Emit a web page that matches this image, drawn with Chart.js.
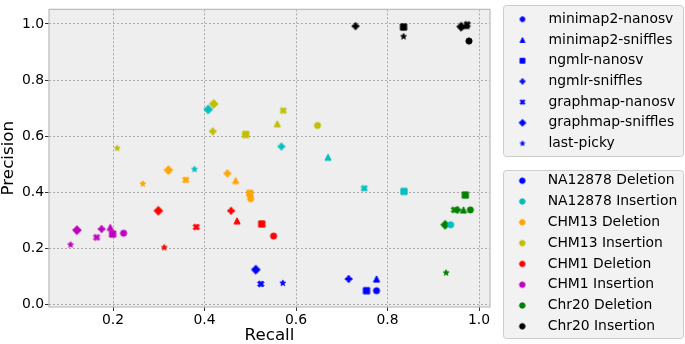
<!DOCTYPE html>
<html><head><meta charset="utf-8">
<script src="https://cdn.jsdelivr.net/npm/chart.js@4/dist/chart.umd.min.js"></script>
<style>html,body{margin:0;padding:0;background:#fff;}canvas{display:block;}</style>
</head><body>
<canvas id="c" width="685" height="344"></canvas>
<script>
const tools = ['minimap2-nanosv','minimap2-sniffles','ngmlr-nanosv','ngmlr-sniffles','graphmap-nanosv','graphmap-sniffles','last-picky'];
const toolMarkers = ['circle','triangle','square','plus','x','diamond','star'];
const samples = ['NA12878 Deletion','NA12878 Insertion','CHM13 Deletion','CHM13 Insertion','CHM1 Deletion','CHM1 Insertion','Chr20 Deletion','Chr20 Insertion'];
const sampleColors = ['#0000ff','#00bfbf','#ffa500','#bfbf00','#ff0000','#bf00bf','#008000','#000000'];
const xTicks = [0.2,0.4,0.6,0.8,1.0];
const yTicks = [0.0,0.2,0.4,0.6,0.8,1.0];

// values in tool order (see `tools`)
const na12878DelRecall    = [0.776,0.776,0.754,0.715,0.523,0.512,0.571];
const na12878DelPrecision = [0.049,0.091,0.049,0.091,0.073,0.124,0.076];
const na12878InsRecall    = [0.938,0.670,0.836,0.568,0.749,0.408,0.378];
const na12878InsPrecision = [0.284,0.525,0.403,0.563,0.414,0.695,0.482];
const chm13DelRecall      = [0.501,0.468,0.499,0.450,0.359,0.321,0.265];
const chm13DelPrecision   = [0.377,0.442,0.396,0.467,0.444,0.479,0.430];
const chm13InsRecall      = [0.647,0.559,0.490,0.418,0.572,0.420,0.209];
const chm13InsPrecision   = [0.638,0.644,0.606,0.617,0.691,0.715,0.557];
const chm1DelRecall       = [0.551,0.471,0.525,0.458,0.382,0.299,0.312];
const chm1DelPrecision    = [0.244,0.298,0.287,0.334,0.276,0.334,0.203];
const chm1InsRecall       = [0.223,0.194,0.199,0.175,0.164,0.121,0.107];
const chm1InsPrecision    = [0.254,0.275,0.251,0.269,0.239,0.265,0.213];
const chr20DelRecall      = [0.981,0.966,0.970,0.953,0.946,0.926,0.928];
const chr20DelPrecision   = [0.337,0.337,0.390,0.337,0.337,0.284,0.113];
const chr20InsRecall      = [0.978,0.972,0.835,0.730,0.974,0.961,0.835];
const chr20InsPrecision   = [0.939,0.995,0.989,0.992,0.998,0.990,0.955];

const recallSets = [na12878DelRecall,na12878InsRecall,chm13DelRecall,chm13InsRecall,chm1DelRecall,chm1InsRecall,chr20DelRecall,chr20InsRecall];
const precisionSets = [na12878DelPrecision,na12878InsPrecision,chm13DelPrecision,chm13InsPrecision,chm1DelPrecision,chm1InsPrecision,chr20DelPrecision,chr20InsPrecision];

const FONT = "'DejaVu Sans', sans-serif";

function markerPath(ctx, shape, cx, cy, s) {
  const h = s / 2;
  ctx.beginPath();
  const poly = (pts, k) => { pts.forEach((p, i) => { const X = cx + p[0] * k, Y = cy + p[1] * k; i ? ctx.lineTo(X, Y) : ctx.moveTo(X, Y); }); ctx.closePath(); };
  switch (shape) {
    case 'circle': ctx.arc(cx, cy, h, 0, Math.PI * 2); break;
    case 'triangle': poly([[0,-1],[1,1],[-1,1]], h); break;
    case 'square': ctx.rect(cx - h, cy - h, s, s); break;
    case 'diamond': poly([[0,-1],[1,0],[0,1],[-1,0]], h * Math.SQRT2); break;
    case 'plus': poly([[-1,-3],[1,-3],[1,-1],[3,-1],[3,1],[1,1],[1,3],[-1,3],[-1,1],[-3,1],[-3,-1],[-1,-1]], s / 6); break;
    case 'x': poly([[-1,-2],[0,-1],[1,-2],[2,-1],[1,0],[2,1],[1,2],[0,1],[-1,2],[-2,1],[-1,0],[-2,-1]], s / 4); break;
    case 'star': {
      const pts = [];
      for (let i = 0; i < 10; i++) {
        const r = i % 2 ? 0.381966 : 1;
        const a = -Math.PI / 2 + i * Math.PI / 5;
        pts.push([r * Math.cos(a), r * Math.sin(a)]);
      }
      poly(pts, h);
      break;
    }
  }
}
function makeMarker(shape, color, s) {
  const size = Math.ceil(s * 1.6) + 4;
  const cv = document.createElement('canvas');
  cv.width = size; cv.height = size;
  const ctx = cv.getContext('2d');
  ctx.fillStyle = color; ctx.strokeStyle = color; ctx.lineWidth = 1; ctx.lineJoin = 'miter';
  markerPath(ctx, shape, size / 2, size / 2, s);
  ctx.fill(); ctx.stroke();
  return cv;
}

const datasets = samples.map((name, i) => ({
  label: name,
  data: recallSets[i].map((x, j) => ({ x: x, y: precisionSets[i][j] })),
  pointStyle: toolMarkers.map(m => makeMarker(m, sampleColors[i], 6.2)),
  backgroundColor: sampleColors[i],
  borderColor: sampleColors[i],
  pointRadius: 4
}));

function roundRect(ctx, x, y, w, h, r) {
  ctx.beginPath();
  ctx.moveTo(x + r, y); ctx.lineTo(x + w - r, y); ctx.arcTo(x + w, y, x + w, y + r, r);
  ctx.lineTo(x + w, y + h - r); ctx.arcTo(x + w, y + h, x + w - r, y + h, r);
  ctx.lineTo(x + r, y + h); ctx.arcTo(x, y + h, x, y + h - r, r);
  ctx.lineTo(x, y + r); ctx.arcTo(x, y, x + r, y, r); ctx.closePath();
}

const decor = {
  id: 'decor',
  beforeDraw(chart) {
    const { ctx, chartArea: a } = chart;
    ctx.save(); ctx.fillStyle = '#eeeeee';
    ctx.fillRect(a.left, a.top, a.right - a.left, a.bottom - a.top);
    ctx.restore();
  },
  afterDraw(chart) {
    const { ctx, chartArea: a } = chart;
    ctx.save();
    ctx.strokeStyle = '#bcbcbc'; ctx.lineWidth = 1.2;
    ctx.strokeRect(a.left, a.top, a.right - a.left, a.bottom - a.top);
    // legend 1: tools
    roundRect(ctx, 503.5, 5.5, 180, 151, 3);
    ctx.fillStyle = '#f2f2f2'; ctx.fill(); ctx.strokeStyle = '#cccccc'; ctx.lineWidth = 1; ctx.stroke();
    ctx.font = '13.9px ' + FONT; ctx.fillStyle = '#000'; ctx.textBaseline = 'middle'; ctx.textAlign = 'left';
    tools.forEach((t, i) => {
      const y = 19.3 + i * 20.7;
      const m = makeMarker(toolMarkers[i], '#0000ff', 4.8);
      ctx.drawImage(m, 522.5 - m.width / 2, y - m.height / 2);
      ctx.fillText(t, 548.5, y);
    });
    // legend 2: samples
    roundRect(ctx, 503.5, 170.5, 180, 168, 3);
    ctx.fillStyle = '#f2f2f2'; ctx.fill(); ctx.strokeStyle = '#cccccc'; ctx.stroke();
    ctx.fillStyle = '#000';
    samples.forEach((s, i) => {
      const y = 180.7 + i * 20.8;
      const m = makeMarker('circle', sampleColors[i], 5.5);
      ctx.drawImage(m, 522.3 - m.width / 2, y - m.height / 2);
      ctx.fillStyle = '#000';
      ctx.fillText(s, 547.7, y);
    });
    ctx.restore();
  }
};

const gridOpts = { color: '#aaaaaa', lineWidth: 1, drawTicks: true, tickLength: 4, tickColor: '#333333', tickWidth: 1, tickBorderDash: [], borderDash: [2, 2] };

new Chart(document.getElementById('c'), {
  type: 'scatter',
  data: { datasets: datasets },
  options: {
    responsive: false, animation: false, devicePixelRatio: 1,
    layout: { padding: { left: 0, top: 1, right: 195, bottom: 0 } },
    plugins: { legend: { display: false }, tooltip: { enabled: false } },
    scales: {
      x: {
        type: 'linear', min: 0.06, max: 1.024,
        afterBuildTicks: s => { s.ticks = xTicks.map(v => ({ value: v })); },
        afterFit: s => { s.height = 37; },
        ticks: { callback: v => Number(v).toFixed(1), color: '#000', font: { family: FONT, size: 13.9 }, padding: 1, maxRotation: 0, autoSkip: false },
        grid: gridOpts,
        border: { display: false, dash: [2, 2] },
        title: { display: true, text: 'Recall', color: '#000', font: { family: FONT, size: 16.7, lineHeight: 1 }, padding: 0 }
      },
      y: {
        type: 'linear', min: -0.009, max: 1.052,
        afterBuildTicks: s => { s.ticks = yTicks.map(v => ({ value: v })); },
        afterFit: s => { s.width = 49; },
        ticks: { callback: v => Number(v).toFixed(1), color: '#000', font: { family: FONT, size: 13.9 }, padding: 1, autoSkip: false },
        grid: gridOpts,
        border: { display: false, dash: [2, 2] },
        title: { display: true, text: 'Precision', color: '#000', font: { family: FONT, size: 16.7, lineHeight: 1 }, padding: 0 }
      }
    }
  },
  plugins: [decor]
});
</script>
</body></html>
